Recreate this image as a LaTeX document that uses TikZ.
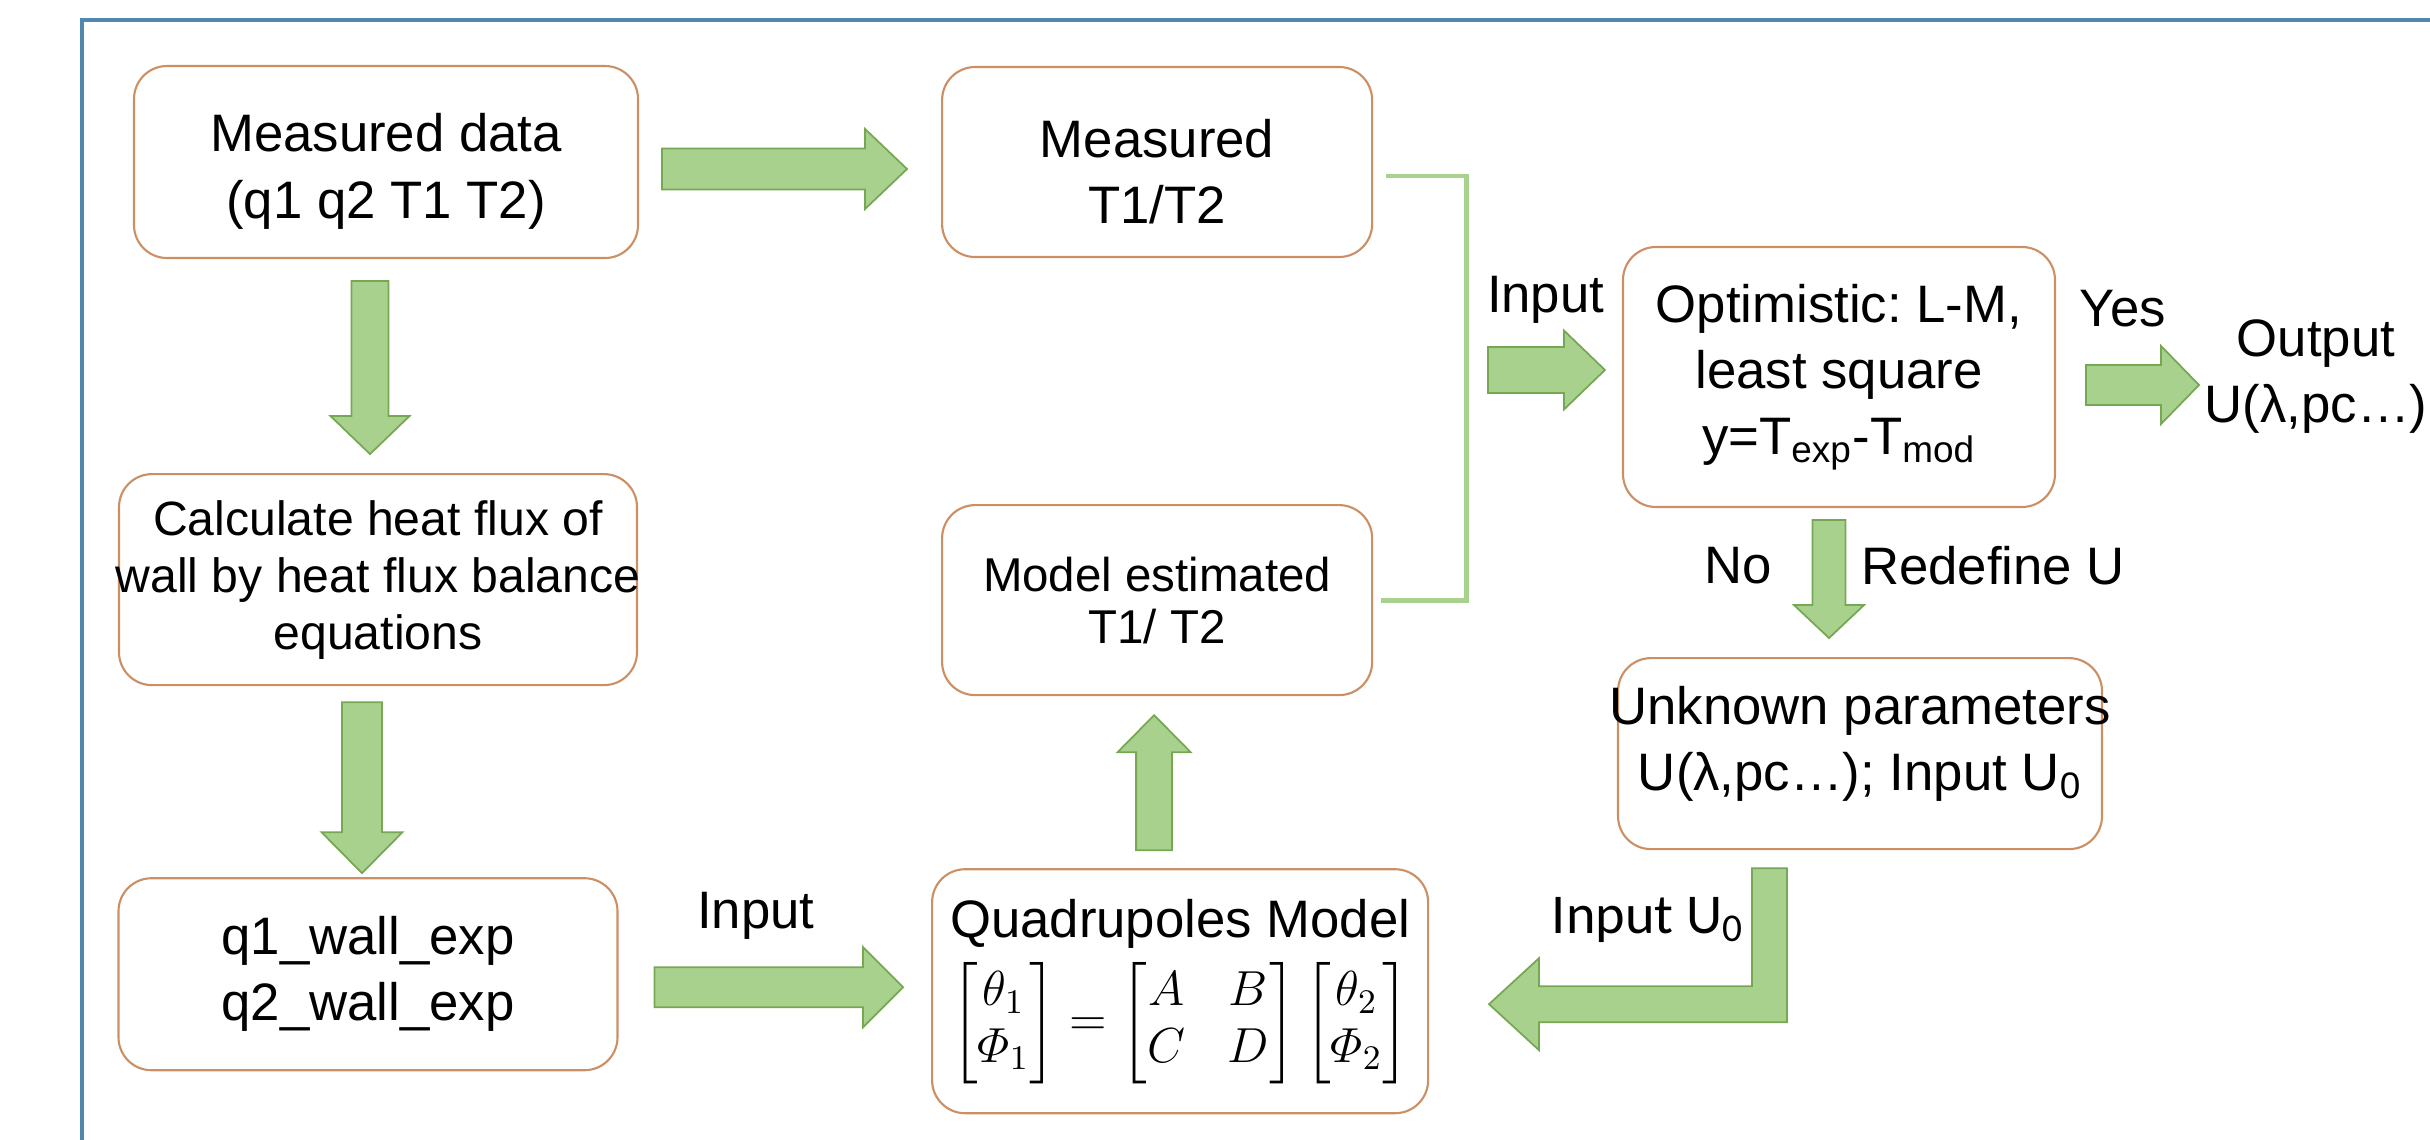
\RequirePackage{fix-cm}
\documentclass[tikz,border=0pt]{standalone}
\usepackage{amsmath}
\usepackage[no-math]{fontspec}
\setmainfont{Liberation Sans}
\newfontfamily\calibri{Carlito}
\usetikzlibrary{positioning,calc}
\frenchspacing

\definecolor{boxline}{RGB}{204,143,100}
\definecolor{arrowfill}{RGB}{169,209,142}
\definecolor{arrowline}{RGB}{118,168,84}
\definecolor{framecol}{RGB}{80,135,175}

\tikzset{
  box/.style={draw=boxline, line width=0.6pt, rounded corners=0.33cm, align=center, inner sep=0pt, font=\fontsize{15}{18.8}\selectfont},
  lbl/.style={inner sep=0pt, align=center, font=\fontsize{15}{18.8}\selectfont},
  % block arrow: half shaft, half head, head length
  fat/.style n args={3}{draw=arrowline, fill=arrowfill, line width=0.5pt,
    to path={($(\tikztotarget)!#3!(\tikztostart)$) coordinate (hb)
      ($(\tikztostart)!#1!90:(\tikztotarget)$) -- ($(hb)!#1!90:(\tikztotarget)$)
      -- ($(hb)!#2!90:(\tikztotarget)$) -- (\tikztotarget)
      -- ($(hb)!#2!-90:(\tikztotarget)$) -- ($(hb)!#1!-90:(\tikztotarget)$)
      -- ($(\tikztostart)!#1!-90:(\tikztotarget)$) -- cycle}},
  bracket/.style={draw=arrowfill, line width=1.4pt}
}

\begin{document}
\begin{tikzpicture}
\useasboundingbox (0,0) rectangle (24.3,-11.4);
\draw[framecol, line width=0.9pt] (0.82,-11.4) |- (24.3,-0.20);

\node[box, minimum width=5.04cm, minimum height=1.92cm] (MeasData) at (3.86,-1.62) {\mbox{}\\[-2.6pt]Measured data\\(q1 q2 T1 T2)};
\node[box, minimum width=4.30cm, minimum height=1.90cm, right=3.02 of MeasData] (MeasT) {\mbox{}\\[-2.6pt]Measured\\T1/T2};
\node[box, minimum width=5.18cm, minimum height=2.11cm, below=2.14 of MeasData, xshift=-0.08cm, font=\fontsize{13.7}{16.2}\selectfont] (Calc) {Calculate heat flux of\\\makebox[5cm]{wall by heat flux balance}\\equations};
\node[box, minimum width=4.99cm, minimum height=1.92cm, below=1.91 of Calc, xshift=-0.10cm] (Wall) {q1\_wall\_exp\\q2\_wall\_exp};
\node[box, minimum width=4.30cm, minimum height=1.90cm, below=2.46 of MeasT, font=\fontsize{13.5}{14.8}\selectfont] (ModEst) {Model estimated\\T1/ T2};
\node[box, minimum width=4.96cm, minimum height=2.44cm, below=1.72 of ModEst, xshift=0.23cm] (Quad) {Quadrupoles Model\\[3pt]\makebox[4.7cm]{\fontsize{14}{16}\selectfont\setlength{\arraycolsep}{6pt}$\begin{bmatrix}\theta_1\\ \varPhi_1\end{bmatrix}=\begin{bmatrix}A & B\\ C & D\end{bmatrix}\begin{bmatrix}\theta_2\\ \varPhi_2\end{bmatrix}$}};
\node[box, minimum width=4.32cm, minimum height=2.60cm] (Optim) at (18.39,-3.77) {Optimistic: L-M,\\least square\\y=T\textsubscript{exp}-T\textsubscript{mod}};
\node[box, minimum width=4.84cm, minimum height=1.91cm, below=1.49 of Optim, xshift=0.21cm] (Unknown) {\makebox[4.7cm]{Unknown parameters}\\U(λ,pc…); Input U\textsubscript{0}\\[-0.36cm]\mbox{}};
\node[lbl] (Output) at (23.16,-3.77) {Output\\U(λ,pc…)};

\node[lbl, right=0.78 of Wall.east, yshift=0.58cm] (In1) {Input};
\node[lbl, left=0.17 of Optim.west, yshift=0.77cm] (In2) {Input};
\node[lbl, right=0.23 of Optim.east, yshift=0.68cm] (Yes) {Yes};
\node[lbl] (No) at (17.38,-5.66) {No};
\node[lbl] (Redef) at (19.93,-5.66) {Redefine U};
\node[lbl, font=\calibri\fontsize{16}{19}\selectfont] (InU) at (16.48,-9.20) {Input U\textsubscript{0}};

\draw[fat={0.205cm}{0.40cm}{0.42cm}] ([shift={(0.23,-0.07)}]MeasData.east) to ([shift={(-0.34,-0.07)}]MeasT.west);
\draw[fat={0.185cm}{0.395cm}{0.38cm}] ([shift={(-0.16,-0.22)}]MeasData.south) to ([shift={(-0.08,0.19)}]Calc.north);
\draw[fat={0.20cm}{0.405cm}{0.41cm}] ([shift={(-0.16,-0.16)}]Calc.south) to ([shift={(-0.06,0.04)}]Wall.north);
\draw[fat={0.20cm}{0.40cm}{0.40cm}] ([shift={(0.36,-0.13)}]Wall.east) to ([shift={(-0.28,0.04)}]Quad.west);
\draw[fat={0.18cm}{0.365cm}{0.37cm}] ([shift={(-0.26,0.18)}]Quad.north) to ([shift={(-0.03,-0.19)}]ModEst.south);
\draw[fat={0.23cm}{0.395cm}{0.41cm}] ([shift={(-1.34,0.07)}]Optim.west) to ([shift={(-0.17,0.07)}]Optim.west);
\draw[fat={0.20cm}{0.39cm}{0.38cm}] ([shift={(0.30,-0.08)}]Optim.east) to ([shift={(-0.05,-0.08)}]Output.west);
\draw[fat={0.165cm}{0.35cm}{0.33cm}] ([shift={(-0.10,-0.12)}]Optim.south) to ([shift={(-0.31,0.19)}]Unknown.north);
\draw[draw=arrowline, fill=arrowfill, line width=0.5pt] ([shift={(-1.08,-0.18)}]Unknown.south) -- ++(0.35,0) -- ++(0,-1.54) -- ++(-2.48,0) -- ++(0,-0.28) -- ++(-0.50,0.46) -- ++(0.50,0.46) -- ++(0,-0.28) -- ++(2.13,0) -- cycle;

\coordinate[right=0.93 of ModEst.east] (join);
\draw[bracket] ([shift={(0.13,-0.14)}]MeasT.east) -| (join) -- ([xshift=0.08cm]ModEst.east);

\end{tikzpicture}
\end{document}
